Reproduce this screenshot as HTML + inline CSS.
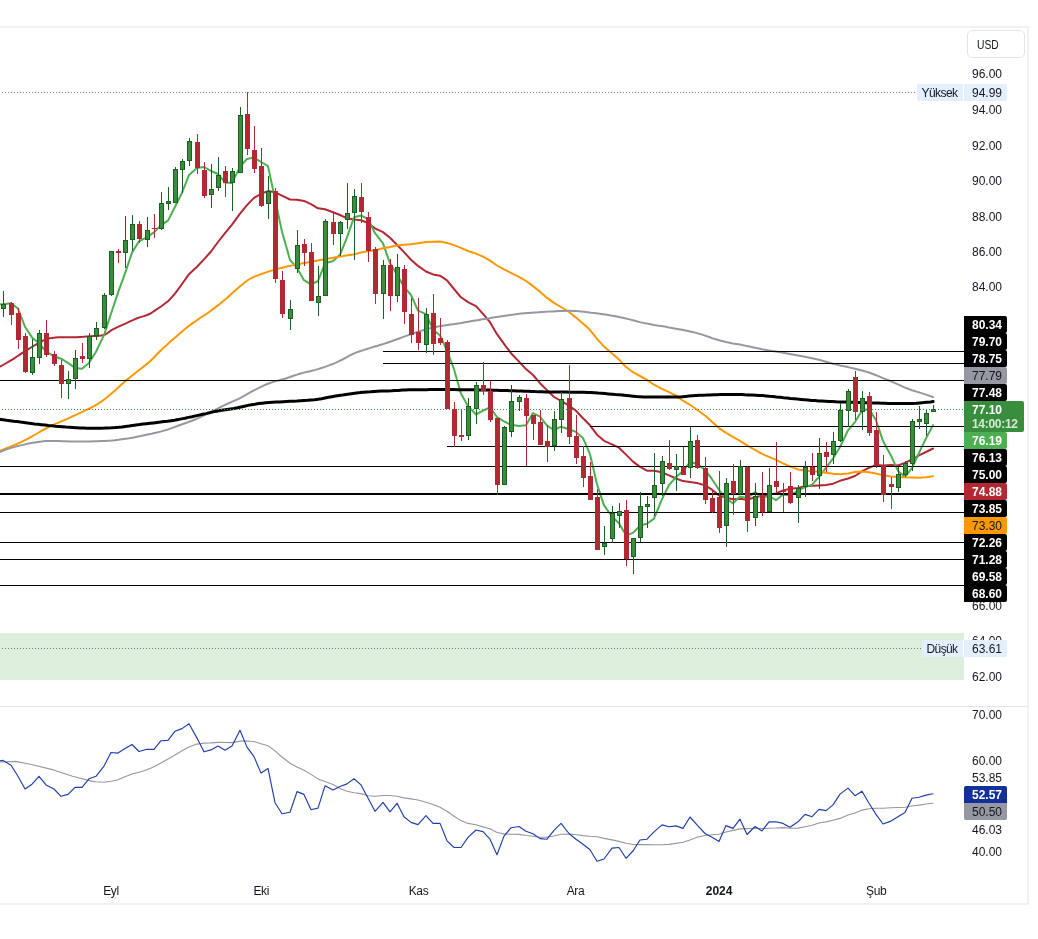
<!DOCTYPE html><html><head><meta charset="utf-8"><title>chart</title><style>
html,body{margin:0;padding:0;background:#fff}
body{width:1038px;height:939px;position:relative;overflow:hidden;font-family:"Liberation Sans",sans-serif;font-size:12px;color:#131722}
.t{position:absolute;left:972px;height:16px;line-height:16px;white-space:nowrap}
.b{position:absolute;left:964px;width:43px;height:17px;line-height:17px;box-sizing:border-box;padding-left:8px;white-space:nowrap;border-radius:0 2px 2px 0}
.b span{position:relative;top:0.5px;display:inline-block}
.w{color:#fff;font-weight:bold}
.tm{position:absolute;top:882.5px;height:16px;line-height:16px;transform:translateX(-50%);white-space:nowrap;letter-spacing:-0.4px}

</style></head><body><div id="root" style="position:absolute;left:0;top:0;width:1038px;height:939px;will-change:transform">
<svg width="1038" height="939" viewBox="0 0 1038 939" style="position:absolute;left:0;top:0">
<rect x="0" y="633" width="964" height="47" fill="#dcefdc"/>
<line x1="-1" y1="92.5" x2="916" y2="92.5" stroke="#787b86" stroke-width="1" stroke-dasharray="1 2" shape-rendering="crispEdges"/>
<line x1="-1" y1="648.5" x2="921" y2="648.5" stroke="#787b86" stroke-width="1" stroke-dasharray="1 2" shape-rendering="crispEdges"/>
<polyline points="-0.5,367.0 3.0,365.0 6.5,363.0 10.0,360.9 13.5,358.8 17.0,356.5 20.5,354.1 24.0,351.8 27.5,349.6 31.0,347.5 34.5,345.4 38.0,343.5 41.5,341.5 45.0,339.6 48.5,338.4 52.0,337.9 55.5,337.5 59.0,337.3 62.5,337.2 66.0,337.2 69.5,337.2 73.0,337.2 76.5,337.2 80.0,337.0 83.5,336.8 87.0,336.5 90.5,336.3 94.0,336.1 97.5,335.9 101.0,335.5 104.5,334.9 108.0,332.8 111.5,330.1 115.0,328.3 118.5,326.7 122.0,325.1 125.5,323.6 129.0,321.9 132.5,320.3 136.0,318.7 139.5,317.4 143.0,316.4 146.5,315.2 150.0,313.8 153.5,311.5 154.0,311.1 161.0,306.5 168.0,301.3 175.0,293.6 182.0,284.0 189.0,274.2 197.0,266.7 204.0,259.4 211.0,251.5 218.0,242.0 225.0,233.1 232.0,224.6 240.0,213.6 247.0,205.1 254.0,197.9 261.0,193.8 268.0,191.1 275.0,192.3 282.0,195.7 290.0,199.5 297.0,199.8 304.0,200.9 311.0,204.1 318.0,208.3 325.0,209.2 333.0,212.2 340.0,215.0 347.0,218.3 354.0,219.5 361.0,220.3 368.0,223.0 375.0,228.4 383.0,232.1 390.0,237.8 397.0,244.7 404.0,252.1 411.0,259.7 418.0,265.9 426.0,271.5 433.0,274.4 440.0,275.7 447.0,280.3 454.0,289.0 461.0,297.3 468.0,302.1 476.0,306.1 483.0,313.8 490.0,322.2 497.0,334.2 504.0,343.9 511.0,353.2 519.0,361.6 526.0,369.1 533.0,375.0 540.0,383.2 547.0,390.1 554.0,397.0 561.0,400.9 569.0,405.6 576.0,410.8 583.0,418.2 590.0,425.3 597.0,434.7 604.0,440.8 612.0,444.3 619.0,447.7 626.0,454.6 633.0,461.6 640.0,466.9 647.0,470.7 654.0,470.8 662.0,472.3 669.0,475.4 676.0,478.5 683.0,481.1 690.0,481.9 697.0,483.0 705.0,485.4 712.0,489.7 719.0,495.5 726.0,497.6 733.0,499.3 740.0,498.7 747.0,499.7 755.0,497.2 762.0,495.9 769.0,494.6 776.0,493.5 783.0,490.4 790.0,488.8 798.0,487.9 805.0,486.2 812.0,485.8 819.0,485.4 826.0,484.9 833.0,483.7 840.0,480.8 848.0,478.5 855.0,476.0 862.0,471.3 869.0,467.7 876.0,464.9 883.0,465.4 891.0,465.1 898.0,465.5 905.0,462.9 912.0,459.5 919.0,455.3 926.0,452.0 933.0,448.5" fill="none" stroke="#b22833" stroke-width="2" stroke-linejoin="round" stroke-linecap="round"/>
<polyline points="-0.5,304.3 3.0,304.2 11.0,303.2 18.0,308.5 25.0,326.8 32.0,337.4 39.0,343.3 46.0,351.3 54.0,356.3 61.0,358.7 68.0,362.9 75.0,367.9 82.0,368.7 89.0,362.9 96.0,351.8 104.0,335.1 111.0,313.8 118.0,292.6 125.0,273.4 132.0,252.6 139.0,241.3 147.0,237.1 154.0,232.4 161.0,225.2 168.0,220.6 175.0,206.7 182.0,192.7 189.0,175.1 197.0,168.1 204.0,166.9 211.0,171.0 218.0,174.0 225.0,182.4 232.0,182.9 240.0,166.9 247.0,158.9 254.0,157.5 261.0,162.0 268.0,166.1 275.0,198.9 282.0,231.7 290.0,259.9 297.0,267.8 304.0,280.2 311.0,284.4 318.0,281.0 325.0,263.4 333.0,261.0 340.0,254.8 347.0,237.4 354.0,217.3 361.0,215.5 368.0,218.9 375.0,233.2 383.0,243.4 390.0,263.4 397.0,274.5 404.0,286.9 411.0,295.0 418.0,310.6 426.0,314.2 433.0,329.4 440.0,335.5 447.0,350.5 454.0,369.2 461.0,393.7 468.0,406.1 476.0,414.5 483.0,410.7 490.0,407.5 497.0,417.0 504.0,421.4 511.0,424.8 519.0,426.1 526.0,425.2 533.0,413.1 540.0,416.6 547.0,425.6 554.0,430.0 561.0,426.7 569.0,429.3 576.0,431.9 583.0,438.1 590.0,454.2 597.0,484.2 604.0,505.4 612.0,516.5 619.0,523.3 626.0,535.2 633.0,532.9 640.0,525.6 647.0,523.8 654.0,518.6 662.0,499.1 669.0,485.2 676.0,477.0 683.0,471.1 690.0,462.2 697.0,463.7 705.0,469.9 712.0,479.2 719.0,489.8 726.0,498.3 733.0,503.4 740.0,496.5 747.0,498.2 755.0,492.0 762.0,497.7 769.0,496.0 776.0,500.2 783.0,494.4 790.0,495.6 798.0,490.7 805.0,487.1 812.0,484.7 819.0,477.0 826.0,467.9 833.0,458.5 840.0,447.0 848.0,430.3 855.0,422.1 862.0,410.4 869.0,408.9 876.0,420.2 883.0,440.9 891.0,455.7 898.0,470.9 905.0,477.0 912.0,468.0 919.0,452.9 926.0,438.3 933.0,425.2" fill="none" stroke="#4caf50" stroke-width="2" stroke-linejoin="round" stroke-linecap="round"/>
<polyline points="-0.5,450.9 3.0,449.6 6.5,448.3 10.0,446.9 13.5,445.4 17.0,443.9 20.5,442.3 24.0,440.6 27.5,438.9 31.0,437.0 34.5,435.0 38.0,433.0 41.5,430.9 45.0,429.0 48.5,427.1 52.0,425.4 55.5,423.8 59.0,422.3 62.5,420.8 66.0,419.3 69.5,417.8 73.0,416.2 76.5,414.6 80.0,412.9 83.5,411.3 87.0,409.7 90.5,408.0 94.0,406.1 97.5,404.2 101.0,401.9 104.5,399.3 108.0,396.4 111.5,393.4 115.0,390.4 118.5,387.2 122.0,383.9 125.5,380.9 129.0,378.1 132.5,375.3 136.0,372.5 139.5,369.8 143.0,367.1 146.5,364.3 150.0,361.3 153.5,358.0 157.0,354.3 160.5,350.8 164.0,347.4 167.5,344.2 171.0,341.1 174.5,338.0 178.0,335.0 181.5,332.0 185.0,329.1 188.5,326.3 192.0,323.6 195.5,321.2 199.0,318.8 202.5,316.5 206.0,314.2 209.5,311.7 213.0,309.1 216.5,306.4 220.0,303.7 223.5,300.8 227.0,297.9 230.5,294.8 234.0,291.6 237.5,288.5 241.0,285.6 244.5,282.7 248.0,280.0 251.5,278.0 255.0,276.4 258.5,275.1 262.0,273.8 265.5,272.6 269.0,271.4 272.5,270.4 276.0,269.3 279.5,268.4 283.0,267.5 286.5,266.6 290.0,265.9 293.5,265.1 297.0,264.4 300.5,263.8 304.0,263.1 307.5,262.5 311.0,261.8 314.5,261.1 318.0,260.5 321.5,259.8 325.0,259.2 328.5,258.6 332.0,257.9 335.5,257.3 339.0,256.7 342.5,256.2 346.0,255.6 349.5,255.0 353.0,254.5 354.0,254.3 361.0,252.5 368.0,251.2 375.0,250.3 383.0,248.2 390.0,246.9 397.0,245.6 404.0,244.8 411.0,244.2 418.0,243.3 426.0,242.1 433.0,241.8 440.0,241.4 447.0,242.9 454.0,245.1 461.0,247.9 468.0,251.0 476.0,253.6 483.0,256.7 490.0,260.6 497.0,265.5 504.0,269.4 511.0,272.9 519.0,276.8 526.0,281.0 533.0,286.1 540.0,291.8 547.0,297.9 554.0,302.9 561.0,307.0 569.0,312.0 576.0,317.6 583.0,323.5 590.0,330.1 597.0,338.8 604.0,346.6 612.0,353.5 619.0,359.6 626.0,367.0 633.0,372.2 640.0,376.0 647.0,379.9 654.0,384.7 662.0,388.9 669.0,392.2 676.0,395.6 683.0,400.7 690.0,404.8 697.0,409.8 705.0,415.5 712.0,421.8 719.0,428.1 726.0,432.8 733.0,436.8 740.0,440.8 747.0,445.3 755.0,449.9 762.0,453.9 769.0,456.9 776.0,459.8 783.0,463.3 790.0,466.5 798.0,469.4 805.0,470.5 812.0,471.3 819.0,471.6 826.0,472.7 833.0,473.8 840.0,474.2 848.0,473.6 855.0,472.1 862.0,471.6 869.0,472.2 876.0,473.6 883.0,475.2 891.0,476.4 898.0,477.0 905.0,477.3 912.0,477.4 919.0,477.8 926.0,477.3 933.0,476.3" fill="none" stroke="#ff9800" stroke-width="2" stroke-linejoin="round" stroke-linecap="round"/>
<polyline points="-0.5,452.0 3.0,450.7 6.5,449.4 10.0,448.2 13.5,447.1 17.0,446.2 20.5,445.4 24.0,444.6 27.5,443.8 31.0,443.1 34.5,442.4 38.0,441.9 41.5,441.4 45.0,441.1 48.5,440.9 52.0,440.9 55.5,441.0 59.0,441.1 62.5,441.2 66.0,441.3 69.5,441.4 73.0,441.5 76.5,441.6 80.0,441.6 83.5,441.6 87.0,441.5 90.5,441.4 94.0,441.3 97.5,441.2 101.0,441.0 104.5,440.9 108.0,440.7 111.5,440.5 115.0,440.2 118.5,439.8 122.0,439.3 125.5,438.8 129.0,438.3 132.5,437.7 136.0,437.0 139.5,436.3 143.0,435.5 146.5,434.8 150.0,434.1 153.5,433.3 157.0,432.5 160.5,431.6 164.0,430.6 167.5,429.6 171.0,428.4 174.5,427.1 178.0,425.8 181.5,424.5 185.0,423.2 188.5,422.0 192.0,420.7 195.5,419.3 199.0,417.7 202.5,416.0 206.0,414.3 209.5,412.6 213.0,410.9 216.5,409.1 220.0,407.3 223.5,405.6 227.0,404.0 230.5,402.4 234.0,400.9 237.5,399.4 241.0,397.6 244.5,395.7 248.0,393.7 251.5,391.7 255.0,389.8 258.5,388.1 262.0,386.3 265.5,384.7 269.0,383.3 272.5,382.1 276.0,381.1 279.5,380.2 283.0,379.2 286.5,378.2 290.0,377.0 293.5,375.7 297.0,374.6 300.5,373.5 304.0,372.6 307.5,371.8 311.0,371.0 314.5,370.1 318.0,369.1 321.5,368.0 325.0,366.9 328.5,365.6 332.0,364.3 335.5,362.8 339.0,361.2 342.5,359.5 346.0,357.7 349.5,355.7 353.0,353.9 356.5,352.4 360.0,351.2 363.5,350.1 367.0,349.0 370.5,347.9 374.0,346.8 377.5,345.8 381.0,344.7 384.5,343.6 388.0,342.5 391.5,341.3 395.0,340.0 398.5,338.7 402.0,337.4 405.5,336.1 409.0,334.9 412.5,333.7 416.0,332.5 419.5,331.4 423.0,330.3 426.5,329.2 430.0,328.3 433.5,327.4 437.0,326.7 440.5,326.1 444.0,325.5 447.5,325.0 451.0,324.5 454.5,324.0 458.0,323.4 461.5,322.9 465.0,322.3 468.5,321.7 472.0,321.1 475.5,320.5 479.0,319.9 482.5,319.3 486.0,318.7 489.5,318.2 493.0,317.6 496.5,317.0 500.0,316.5 503.5,315.9 507.0,315.4 510.5,314.9 514.0,314.4 517.5,314.0 521.0,313.6 524.5,313.3 528.0,313.0 531.5,312.7 535.0,312.4 538.5,312.2 542.0,311.9 545.5,311.7 549.0,311.6 552.5,311.4 556.0,311.2 559.5,311.0 563.0,310.9 566.5,310.8 570.0,310.8 573.5,310.9 577.0,311.1 580.5,311.4 584.0,311.8 587.5,312.2 591.0,312.7 594.5,313.1 598.0,313.5 601.5,314.0 605.0,314.5 608.5,315.1 612.0,315.7 615.5,316.3 619.0,317.0 622.5,317.7 626.0,318.5 629.5,319.4 633.0,320.3 636.5,321.2 640.0,322.1 643.5,322.9 647.0,323.6 650.5,324.2 654.0,324.9 657.5,325.5 661.0,326.0 664.5,326.6 668.0,327.3 671.5,327.9 675.0,328.6 678.5,329.2 682.0,329.8 685.5,330.5 689.0,331.2 692.5,332.0 696.0,332.9 699.5,333.9 703.0,334.9 706.5,336.1 710.0,337.3 712.0,338.1 719.0,340.3 726.0,342.0 733.0,343.5 740.0,344.5 747.0,346.1 755.0,347.7 762.0,349.3 769.0,350.5 776.0,351.6 783.0,352.7 790.0,354.1 798.0,355.4 805.0,356.7 812.0,358.2 819.0,359.8 826.0,361.8 833.0,363.7 840.0,365.4 848.0,367.1 855.0,368.8 862.0,370.5 869.0,372.5 876.0,375.2 883.0,378.1 891.0,381.3 898.0,384.4 905.0,387.6 912.0,390.2 919.0,392.4 926.0,394.6 933.0,397.0" fill="none" stroke="#9598a1" stroke-width="2" stroke-linejoin="round" stroke-linecap="round"/>
<polyline points="-0.5,419.3 3.0,419.8 6.5,420.3 10.0,420.7 13.5,421.2 17.0,421.6 20.5,422.1 24.0,422.5 27.5,423.0 31.0,423.4 34.5,423.9 38.0,424.3 41.5,424.7 45.0,425.1 48.5,425.5 52.0,425.8 55.5,426.2 59.0,426.5 62.5,426.8 66.0,427.1 69.5,427.3 73.0,427.5 76.5,427.7 80.0,427.9 83.5,428.0 87.0,428.2 90.5,428.3 94.0,428.3 97.5,428.3 101.0,428.2 104.5,428.1 108.0,427.9 111.5,427.8 115.0,427.6 118.5,427.3 122.0,426.9 125.5,426.4 129.0,426.0 132.5,425.5 136.0,425.0 139.5,424.6 143.0,424.1 146.5,423.7 150.0,423.3 153.5,422.9 157.0,422.5 160.5,422.1 164.0,421.6 167.5,421.2 171.0,420.7 174.5,420.2 178.0,419.6 181.5,418.9 185.0,418.2 188.5,417.4 192.0,416.7 195.5,415.9 199.0,415.1 202.5,414.3 206.0,413.6 209.5,412.8 213.0,411.9 216.5,411.2 220.0,410.5 223.5,410.0 227.0,409.5 230.5,409.0 234.0,408.5 237.5,407.8 241.0,407.0 244.5,406.2 248.0,405.4 251.5,404.7 255.0,404.2 258.5,403.6 262.0,403.2 265.5,402.8 269.0,402.5 272.5,402.3 276.0,402.1 279.5,401.9 283.0,401.7 286.5,401.5 290.0,401.3 293.5,401.2 297.0,401.0 300.5,400.7 304.0,400.5 307.5,400.3 311.0,400.0 314.5,399.7 318.0,399.3 321.5,398.8 325.0,398.0 328.5,397.3 332.0,396.7 335.5,396.1 339.0,395.6 342.5,395.1 346.0,394.5 349.5,393.9 353.0,393.4 356.5,392.9 360.0,392.6 363.5,392.2 367.0,391.9 370.5,391.7 374.0,391.4 377.5,391.2 381.0,391.1 384.5,391.0 388.0,390.9 391.5,390.8 395.0,390.6 398.5,390.4 402.0,390.1 405.5,389.9 409.0,389.8 412.5,389.8 416.0,389.7 419.5,389.7 423.0,389.7 426.5,389.7 430.0,389.6 433.5,389.6 437.0,389.6 440.5,389.6 444.0,389.6 447.5,389.6 451.0,389.6 454.5,389.6 458.0,389.7 461.5,389.7 465.0,389.7 468.5,389.8 472.0,389.8 475.5,389.8 479.0,389.9 482.5,390.0 486.0,390.0 489.5,390.1 493.0,390.2 496.5,390.3 500.0,390.4 503.5,390.5 507.0,390.6 510.5,390.7 514.0,390.8 517.5,390.9 521.0,391.0 524.5,391.2 528.0,391.3 531.5,391.4 535.0,391.6 538.5,391.7 542.0,391.8 545.5,391.9 549.0,392.0 552.5,392.0 556.0,392.1 559.5,392.1 563.0,392.1 566.5,392.1 570.0,392.2 573.5,392.2 577.0,392.2 580.5,392.3 584.0,392.3 587.5,392.5 591.0,392.6 594.5,392.8 598.0,393.1 601.5,393.3 605.0,393.6 608.5,393.9 612.0,394.2 615.5,394.5 619.0,394.7 622.5,395.0 626.0,395.4 629.5,395.8 633.0,396.2 636.5,396.6 640.0,396.8 643.5,397.0 647.0,397.0 650.5,397.0 654.0,397.0 657.5,397.0 661.0,397.0 664.5,397.0 668.0,397.0 671.5,397.0 675.0,397.0 678.5,396.9 682.0,396.7 685.5,396.4 689.0,396.1 692.5,395.8 696.0,395.5 699.5,395.3 703.0,395.2 706.5,395.1 710.0,394.9 713.5,394.8 717.0,394.7 720.5,394.6 724.0,394.6 727.5,394.5 731.0,394.5 734.5,394.5 738.0,394.6 741.5,394.6 745.0,394.8 748.5,394.9 752.0,395.0 755.5,395.2 759.0,395.4 762.5,395.6 766.0,395.9 769.5,396.3 773.0,396.6 776.5,397.0 780.0,397.3 783.5,397.7 787.0,398.0 790.5,398.4 794.0,398.7 797.5,399.1 801.0,399.4 804.5,399.7 808.0,400.0 811.5,400.4 815.0,400.6 818.5,400.9 822.0,401.1 825.5,401.3 829.0,401.5 832.5,401.6 836.0,401.8 839.5,401.9 843.0,402.0 846.5,402.1 850.0,402.2 853.5,402.3 857.0,402.4 860.5,402.5 864.0,402.7 867.5,402.8 871.0,402.9 874.5,403.0 878.0,403.1 881.5,403.2 885.0,403.3 888.5,403.4 892.0,403.5 895.5,403.5 899.0,403.5 902.5,403.5 906.0,403.5 909.5,403.4 913.0,403.4 916.5,403.3 920.0,402.9 923.5,402.6 927.0,402.2 930.5,401.9 933.1,401.6" fill="none" stroke="#000" stroke-width="3" stroke-linejoin="round" stroke-linecap="round"/>
<line x1="383" y1="351.5" x2="964" y2="351.5" stroke="#000" stroke-width="1" shape-rendering="crispEdges"/>
<line x1="383" y1="363.5" x2="964" y2="363.5" stroke="#000" stroke-width="1" shape-rendering="crispEdges"/>
<line x1="0" y1="380.5" x2="964" y2="380.5" stroke="#000" stroke-width="1" shape-rendering="crispEdges"/>
<line x1="590" y1="426.5" x2="964" y2="426.5" stroke="#000" stroke-width="1" shape-rendering="crispEdges"/>
<line x1="447" y1="446.5" x2="964" y2="446.5" stroke="#000" stroke-width="1" shape-rendering="crispEdges"/>
<line x1="0" y1="466.5" x2="964" y2="466.5" stroke="#000" stroke-width="1" shape-rendering="crispEdges"/>
<rect x="0" y="493.0" width="964" height="2" fill="#000" shape-rendering="crispEdges"/>
<line x1="0" y1="512.5" x2="964" y2="512.5" stroke="#000" stroke-width="1" shape-rendering="crispEdges"/>
<line x1="0" y1="542.5" x2="964" y2="542.5" stroke="#000" stroke-width="1" shape-rendering="crispEdges"/>
<line x1="0" y1="559.5" x2="964" y2="559.5" stroke="#000" stroke-width="1" shape-rendering="crispEdges"/>
<line x1="0" y1="585.5" x2="964" y2="585.5" stroke="#000" stroke-width="1" shape-rendering="crispEdges"/>
<g shape-rendering="crispEdges">
<rect x="3" y="291.2" width="1" height="25.6" fill="#1b5e20"/>
<rect x="1" y="303.7" width="5" height="4.8" fill="#1b5e20"/>
<rect x="2" y="304.7" width="3" height="2.8" fill="#388e3c"/>
<rect x="11" y="302.4" width="1" height="22.5" fill="#b22833"/>
<rect x="9" y="303.1" width="5" height="11.6" fill="#b22833"/>
<rect x="10" y="304.1" width="3" height="9.6" fill="#b22833"/>
<rect x="18" y="307.6" width="1" height="41.0" fill="#b22833"/>
<rect x="16" y="313.4" width="5" height="26.3" fill="#b22833"/>
<rect x="17" y="314.4" width="3" height="24.3" fill="#b22833"/>
<rect x="25" y="333.2" width="1" height="39.5" fill="#b22833"/>
<rect x="23" y="335.9" width="5" height="35.8" fill="#b22833"/>
<rect x="24" y="336.9" width="3" height="33.8" fill="#b22833"/>
<rect x="32" y="339.4" width="1" height="35.6" fill="#1b5e20"/>
<rect x="30" y="357.3" width="5" height="15.2" fill="#1b5e20"/>
<rect x="31" y="358.3" width="3" height="13.2" fill="#388e3c"/>
<rect x="39" y="330.1" width="1" height="33.9" fill="#1b5e20"/>
<rect x="37" y="333.2" width="5" height="24.5" fill="#1b5e20"/>
<rect x="38" y="334.2" width="3" height="22.5" fill="#388e3c"/>
<rect x="46" y="320.1" width="1" height="36.6" fill="#b22833"/>
<rect x="44" y="333.2" width="5" height="21.6" fill="#b22833"/>
<rect x="45" y="334.2" width="3" height="19.6" fill="#b22833"/>
<rect x="54" y="350.9" width="1" height="14.9" fill="#b22833"/>
<rect x="52" y="354.2" width="5" height="10.2" fill="#b22833"/>
<rect x="53" y="355.2" width="3" height="8.2" fill="#b22833"/>
<rect x="61" y="360.2" width="1" height="37.5" fill="#b22833"/>
<rect x="59" y="364.8" width="5" height="18.9" fill="#b22833"/>
<rect x="60" y="365.8" width="3" height="16.9" fill="#b22833"/>
<rect x="68" y="371.2" width="1" height="27.5" fill="#1b5e20"/>
<rect x="66" y="378.5" width="5" height="5.2" fill="#1b5e20"/>
<rect x="67" y="379.5" width="3" height="3.2" fill="#388e3c"/>
<rect x="75" y="350.0" width="1" height="38.5" fill="#1b5e20"/>
<rect x="73" y="358.2" width="5" height="20.7" fill="#1b5e20"/>
<rect x="74" y="359.2" width="3" height="18.7" fill="#388e3c"/>
<rect x="82" y="343.2" width="1" height="19.3" fill="#b22833"/>
<rect x="80" y="356.1" width="5" height="2.5" fill="#b22833"/>
<rect x="81" y="357.1" width="3" height="0.5" fill="#b22833"/>
<rect x="89" y="332.6" width="1" height="35.1" fill="#1b5e20"/>
<rect x="87" y="335.5" width="5" height="23.1" fill="#1b5e20"/>
<rect x="88" y="336.5" width="3" height="21.1" fill="#388e3c"/>
<rect x="96" y="322.0" width="1" height="18.3" fill="#1b5e20"/>
<rect x="94" y="328.4" width="5" height="7.1" fill="#1b5e20"/>
<rect x="95" y="329.4" width="3" height="5.1" fill="#388e3c"/>
<rect x="104" y="292.7" width="1" height="36.1" fill="#1b5e20"/>
<rect x="102" y="295.0" width="5" height="33.4" fill="#1b5e20"/>
<rect x="103" y="296.0" width="3" height="31.4" fill="#388e3c"/>
<rect x="111" y="251.0" width="1" height="44.5" fill="#1b5e20"/>
<rect x="109" y="251.4" width="5" height="43.9" fill="#1b5e20"/>
<rect x="110" y="252.4" width="3" height="41.9" fill="#388e3c"/>
<rect x="118" y="249.1" width="1" height="13.9" fill="#b22833"/>
<rect x="116" y="251.0" width="5" height="1.6" fill="#b22833"/>
<rect x="125" y="216.0" width="1" height="52.0" fill="#1b5e20"/>
<rect x="123" y="239.5" width="5" height="13.8" fill="#1b5e20"/>
<rect x="124" y="240.5" width="3" height="11.8" fill="#388e3c"/>
<rect x="132" y="215.0" width="1" height="36.0" fill="#1b5e20"/>
<rect x="130" y="224.4" width="5" height="15.1" fill="#1b5e20"/>
<rect x="131" y="225.4" width="3" height="13.1" fill="#388e3c"/>
<rect x="139" y="220.8" width="1" height="21.9" fill="#b22833"/>
<rect x="137" y="224.4" width="5" height="14.1" fill="#b22833"/>
<rect x="138" y="225.4" width="3" height="12.1" fill="#b22833"/>
<rect x="147" y="216.9" width="1" height="29.9" fill="#1b5e20"/>
<rect x="145" y="230.4" width="5" height="9.1" fill="#1b5e20"/>
<rect x="146" y="231.4" width="3" height="7.1" fill="#388e3c"/>
<rect x="154" y="214.0" width="1" height="24.0" fill="#b22833"/>
<rect x="152" y="228.3" width="5" height="1.1" fill="#b22833"/>
<rect x="161" y="192.3" width="1" height="37.5" fill="#1b5e20"/>
<rect x="159" y="203.2" width="5" height="26.2" fill="#1b5e20"/>
<rect x="160" y="204.2" width="3" height="24.2" fill="#388e3c"/>
<rect x="168" y="187.0" width="1" height="23.0" fill="#1b5e20"/>
<rect x="166" y="201.3" width="5" height="2.5" fill="#1b5e20"/>
<rect x="167" y="202.3" width="3" height="0.5" fill="#388e3c"/>
<rect x="175" y="166.8" width="1" height="36.1" fill="#1b5e20"/>
<rect x="173" y="169.1" width="5" height="33.4" fill="#1b5e20"/>
<rect x="174" y="170.1" width="3" height="31.4" fill="#388e3c"/>
<rect x="182" y="159.1" width="1" height="33.7" fill="#1b5e20"/>
<rect x="180" y="160.5" width="5" height="9.0" fill="#1b5e20"/>
<rect x="181" y="161.5" width="3" height="7.0" fill="#388e3c"/>
<rect x="189" y="137.9" width="1" height="28.0" fill="#1b5e20"/>
<rect x="187" y="141.2" width="5" height="19.3" fill="#1b5e20"/>
<rect x="188" y="142.2" width="3" height="17.3" fill="#388e3c"/>
<rect x="197" y="134.0" width="1" height="39.6" fill="#b22833"/>
<rect x="195" y="142.2" width="5" height="26.0" fill="#b22833"/>
<rect x="196" y="143.2" width="3" height="24.0" fill="#b22833"/>
<rect x="204" y="162.0" width="1" height="36.0" fill="#b22833"/>
<rect x="202" y="170.1" width="5" height="25.6" fill="#b22833"/>
<rect x="203" y="171.1" width="3" height="23.6" fill="#b22833"/>
<rect x="211" y="163.9" width="1" height="43.8" fill="#1b5e20"/>
<rect x="209" y="189.4" width="5" height="5.2" fill="#1b5e20"/>
<rect x="210" y="190.4" width="3" height="3.2" fill="#388e3c"/>
<rect x="218" y="157.0" width="1" height="33.9" fill="#1b5e20"/>
<rect x="216" y="175.3" width="5" height="13.1" fill="#1b5e20"/>
<rect x="217" y="176.3" width="3" height="11.1" fill="#388e3c"/>
<rect x="225" y="166.2" width="1" height="30.5" fill="#b22833"/>
<rect x="223" y="171.1" width="5" height="12.1" fill="#b22833"/>
<rect x="224" y="172.1" width="3" height="10.1" fill="#b22833"/>
<rect x="232" y="168.2" width="1" height="42.4" fill="#1b5e20"/>
<rect x="230" y="171.1" width="5" height="12.1" fill="#1b5e20"/>
<rect x="231" y="172.1" width="3" height="10.1" fill="#388e3c"/>
<rect x="240" y="107.0" width="1" height="65.5" fill="#1b5e20"/>
<rect x="238" y="115.3" width="5" height="57.2" fill="#1b5e20"/>
<rect x="239" y="116.3" width="3" height="55.2" fill="#388e3c"/>
<rect x="247" y="91.9" width="1" height="62.9" fill="#b22833"/>
<rect x="245" y="114.3" width="5" height="35.1" fill="#b22833"/>
<rect x="246" y="115.3" width="3" height="33.1" fill="#b22833"/>
<rect x="254" y="125.9" width="1" height="47.0" fill="#b22833"/>
<rect x="252" y="150.3" width="5" height="18.3" fill="#b22833"/>
<rect x="253" y="151.3" width="3" height="16.3" fill="#b22833"/>
<rect x="261" y="147.8" width="1" height="59.0" fill="#b22833"/>
<rect x="259" y="166.1" width="5" height="39.5" fill="#b22833"/>
<rect x="260" y="167.1" width="3" height="37.5" fill="#b22833"/>
<rect x="268" y="176.0" width="1" height="42.7" fill="#1b5e20"/>
<rect x="266" y="191.4" width="5" height="12.9" fill="#1b5e20"/>
<rect x="267" y="192.4" width="3" height="10.9" fill="#388e3c"/>
<rect x="275" y="188.0" width="1" height="94.9" fill="#b22833"/>
<rect x="273" y="190.8" width="5" height="88.6" fill="#b22833"/>
<rect x="274" y="191.8" width="3" height="86.6" fill="#b22833"/>
<rect x="282" y="271.3" width="1" height="46.2" fill="#b22833"/>
<rect x="280" y="280.3" width="5" height="33.4" fill="#b22833"/>
<rect x="281" y="281.3" width="3" height="31.4" fill="#b22833"/>
<rect x="290" y="300.2" width="1" height="29.3" fill="#1b5e20"/>
<rect x="288" y="309.2" width="5" height="9.3" fill="#1b5e20"/>
<rect x="289" y="310.2" width="3" height="7.3" fill="#388e3c"/>
<rect x="297" y="230.2" width="1" height="42.6" fill="#1b5e20"/>
<rect x="295" y="245.3" width="5" height="24.1" fill="#1b5e20"/>
<rect x="296" y="246.3" width="3" height="22.1" fill="#388e3c"/>
<rect x="304" y="239.1" width="1" height="26.4" fill="#b22833"/>
<rect x="302" y="244.3" width="5" height="9.1" fill="#b22833"/>
<rect x="303" y="245.3" width="3" height="7.1" fill="#b22833"/>
<rect x="311" y="243.3" width="1" height="57.3" fill="#b22833"/>
<rect x="309" y="252.0" width="5" height="48.6" fill="#b22833"/>
<rect x="310" y="253.0" width="3" height="46.6" fill="#b22833"/>
<rect x="318" y="266.1" width="1" height="49.5" fill="#1b5e20"/>
<rect x="316" y="296.3" width="5" height="6.2" fill="#1b5e20"/>
<rect x="317" y="297.3" width="3" height="4.2" fill="#388e3c"/>
<rect x="325" y="219.0" width="1" height="77.3" fill="#1b5e20"/>
<rect x="323" y="221.2" width="5" height="75.1" fill="#1b5e20"/>
<rect x="324" y="222.2" width="3" height="73.1" fill="#388e3c"/>
<rect x="333" y="212.3" width="1" height="32.4" fill="#b22833"/>
<rect x="331" y="222.2" width="5" height="11.5" fill="#b22833"/>
<rect x="332" y="223.2" width="3" height="9.5" fill="#b22833"/>
<rect x="340" y="221.0" width="1" height="35.4" fill="#1b5e20"/>
<rect x="338" y="222.2" width="5" height="11.5" fill="#1b5e20"/>
<rect x="339" y="223.2" width="3" height="9.5" fill="#388e3c"/>
<rect x="347" y="183.0" width="1" height="45.6" fill="#1b5e20"/>
<rect x="345" y="213.4" width="5" height="6.8" fill="#1b5e20"/>
<rect x="346" y="214.4" width="3" height="4.8" fill="#388e3c"/>
<rect x="354" y="188.9" width="1" height="70.8" fill="#1b5e20"/>
<rect x="352" y="196.2" width="5" height="17.2" fill="#1b5e20"/>
<rect x="353" y="197.2" width="3" height="15.2" fill="#388e3c"/>
<rect x="361" y="183.0" width="1" height="39.6" fill="#b22833"/>
<rect x="359" y="197.0" width="5" height="15.0" fill="#b22833"/>
<rect x="360" y="198.0" width="3" height="13.0" fill="#b22833"/>
<rect x="368" y="212.0" width="1" height="49.7" fill="#b22833"/>
<rect x="366" y="217.3" width="5" height="33.3" fill="#b22833"/>
<rect x="367" y="218.3" width="3" height="31.3" fill="#b22833"/>
<rect x="375" y="246.8" width="1" height="56.9" fill="#b22833"/>
<rect x="373" y="249.1" width="5" height="44.7" fill="#b22833"/>
<rect x="374" y="250.1" width="3" height="42.7" fill="#b22833"/>
<rect x="383" y="260.1" width="1" height="58.4" fill="#1b5e20"/>
<rect x="381" y="264.5" width="5" height="29.9" fill="#1b5e20"/>
<rect x="382" y="265.5" width="3" height="27.9" fill="#388e3c"/>
<rect x="390" y="259.3" width="1" height="51.5" fill="#b22833"/>
<rect x="388" y="265.1" width="5" height="31.2" fill="#b22833"/>
<rect x="389" y="266.1" width="3" height="29.2" fill="#b22833"/>
<rect x="397" y="254.3" width="1" height="47.2" fill="#1b5e20"/>
<rect x="395" y="267.4" width="5" height="28.9" fill="#1b5e20"/>
<rect x="396" y="268.4" width="3" height="26.9" fill="#388e3c"/>
<rect x="404" y="265.1" width="1" height="58.6" fill="#b22833"/>
<rect x="402" y="269.4" width="5" height="42.9" fill="#b22833"/>
<rect x="403" y="270.4" width="3" height="40.9" fill="#b22833"/>
<rect x="411" y="298.3" width="1" height="44.3" fill="#b22833"/>
<rect x="409" y="314.3" width="5" height="20.2" fill="#b22833"/>
<rect x="410" y="315.3" width="3" height="18.2" fill="#b22833"/>
<rect x="418" y="298.3" width="1" height="52.0" fill="#b22833"/>
<rect x="416" y="332.4" width="5" height="10.2" fill="#b22833"/>
<rect x="417" y="333.4" width="3" height="8.2" fill="#b22833"/>
<rect x="426" y="308.3" width="1" height="44.3" fill="#1b5e20"/>
<rect x="424" y="314.3" width="5" height="30.2" fill="#1b5e20"/>
<rect x="425" y="315.3" width="3" height="28.2" fill="#388e3c"/>
<rect x="433" y="294.4" width="1" height="60.3" fill="#b22833"/>
<rect x="431" y="313.3" width="5" height="30.2" fill="#b22833"/>
<rect x="432" y="314.3" width="3" height="28.2" fill="#b22833"/>
<rect x="440" y="318.1" width="1" height="26.4" fill="#b22833"/>
<rect x="438" y="338.0" width="5" height="4.5" fill="#b22833"/>
<rect x="439" y="339.0" width="3" height="2.5" fill="#b22833"/>
<rect x="447" y="339.6" width="1" height="69.8" fill="#b22833"/>
<rect x="445" y="342.0" width="5" height="67.4" fill="#b22833"/>
<rect x="446" y="343.0" width="3" height="65.4" fill="#b22833"/>
<rect x="454" y="402.3" width="1" height="44.3" fill="#b22833"/>
<rect x="452" y="409.4" width="5" height="27.0" fill="#b22833"/>
<rect x="453" y="410.4" width="3" height="25.0" fill="#b22833"/>
<rect x="461" y="409.4" width="1" height="31.4" fill="#b22833"/>
<rect x="459" y="435.0" width="5" height="1.6" fill="#b22833"/>
<rect x="468" y="398.0" width="1" height="41.8" fill="#1b5e20"/>
<rect x="466" y="405.5" width="5" height="30.9" fill="#1b5e20"/>
<rect x="467" y="406.5" width="3" height="28.9" fill="#388e3c"/>
<rect x="476" y="382.0" width="1" height="41.8" fill="#1b5e20"/>
<rect x="474" y="384.5" width="5" height="24.9" fill="#1b5e20"/>
<rect x="475" y="385.5" width="3" height="22.9" fill="#388e3c"/>
<rect x="483" y="362.2" width="1" height="32.3" fill="#b22833"/>
<rect x="481" y="384.5" width="5" height="6.2" fill="#b22833"/>
<rect x="482" y="385.5" width="3" height="4.2" fill="#b22833"/>
<rect x="490" y="380.5" width="1" height="41.4" fill="#b22833"/>
<rect x="488" y="391.3" width="5" height="28.7" fill="#b22833"/>
<rect x="489" y="392.3" width="3" height="26.7" fill="#b22833"/>
<rect x="497" y="417.7" width="1" height="77.0" fill="#b22833"/>
<rect x="495" y="418.2" width="5" height="66.3" fill="#b22833"/>
<rect x="496" y="419.2" width="3" height="64.3" fill="#b22833"/>
<rect x="504" y="425.8" width="1" height="58.7" fill="#1b5e20"/>
<rect x="502" y="427.3" width="5" height="57.2" fill="#1b5e20"/>
<rect x="503" y="428.3" width="3" height="55.2" fill="#388e3c"/>
<rect x="511" y="385.3" width="1" height="51.3" fill="#1b5e20"/>
<rect x="509" y="401.3" width="5" height="30.8" fill="#1b5e20"/>
<rect x="510" y="402.3" width="3" height="28.8" fill="#388e3c"/>
<rect x="519" y="395.1" width="1" height="15.4" fill="#1b5e20"/>
<rect x="517" y="397.4" width="5" height="4.3" fill="#1b5e20"/>
<rect x="518" y="398.4" width="3" height="2.3" fill="#388e3c"/>
<rect x="526" y="394.2" width="1" height="71.6" fill="#b22833"/>
<rect x="524" y="398.0" width="5" height="17.7" fill="#b22833"/>
<rect x="525" y="399.0" width="3" height="15.7" fill="#b22833"/>
<rect x="533" y="414.8" width="1" height="25.0" fill="#b22833"/>
<rect x="531" y="415.4" width="5" height="8.4" fill="#b22833"/>
<rect x="532" y="416.4" width="3" height="6.4" fill="#b22833"/>
<rect x="540" y="410.3" width="1" height="34.3" fill="#b22833"/>
<rect x="538" y="422.1" width="5" height="22.5" fill="#b22833"/>
<rect x="539" y="423.1" width="3" height="20.5" fill="#b22833"/>
<rect x="547" y="425.4" width="1" height="36.6" fill="#b22833"/>
<rect x="545" y="441.2" width="5" height="5.4" fill="#b22833"/>
<rect x="546" y="442.2" width="3" height="3.4" fill="#b22833"/>
<rect x="554" y="411.3" width="1" height="39.5" fill="#1b5e20"/>
<rect x="552" y="419.2" width="5" height="27.0" fill="#1b5e20"/>
<rect x="553" y="420.2" width="3" height="25.0" fill="#388e3c"/>
<rect x="561" y="392.2" width="1" height="40.5" fill="#1b5e20"/>
<rect x="559" y="399.4" width="5" height="20.2" fill="#1b5e20"/>
<rect x="560" y="400.4" width="3" height="18.2" fill="#388e3c"/>
<rect x="569" y="365.3" width="1" height="78.4" fill="#b22833"/>
<rect x="567" y="398.0" width="5" height="38.6" fill="#b22833"/>
<rect x="568" y="399.0" width="3" height="36.6" fill="#b22833"/>
<rect x="576" y="415.2" width="1" height="48.3" fill="#b22833"/>
<rect x="574" y="436.0" width="5" height="21.6" fill="#b22833"/>
<rect x="575" y="437.0" width="3" height="19.6" fill="#b22833"/>
<rect x="583" y="445.9" width="1" height="40.8" fill="#b22833"/>
<rect x="581" y="456.3" width="5" height="21.4" fill="#b22833"/>
<rect x="582" y="457.3" width="3" height="19.4" fill="#b22833"/>
<rect x="590" y="462.0" width="1" height="37.6" fill="#b22833"/>
<rect x="588" y="476.0" width="5" height="23.6" fill="#b22833"/>
<rect x="589" y="477.0" width="3" height="21.6" fill="#b22833"/>
<rect x="597" y="489.0" width="1" height="60.7" fill="#b22833"/>
<rect x="595" y="497.3" width="5" height="52.4" fill="#b22833"/>
<rect x="596" y="498.3" width="3" height="50.4" fill="#b22833"/>
<rect x="604" y="526.2" width="1" height="28.3" fill="#1b5e20"/>
<rect x="602" y="542.6" width="5" height="4.2" fill="#1b5e20"/>
<rect x="603" y="543.6" width="3" height="2.2" fill="#388e3c"/>
<rect x="612" y="506.0" width="1" height="36.6" fill="#1b5e20"/>
<rect x="610" y="513.1" width="5" height="26.2" fill="#1b5e20"/>
<rect x="611" y="514.1" width="3" height="24.2" fill="#388e3c"/>
<rect x="619" y="503.1" width="1" height="24.6" fill="#1b5e20"/>
<rect x="617" y="511.4" width="5" height="4.2" fill="#1b5e20"/>
<rect x="618" y="512.4" width="3" height="2.2" fill="#388e3c"/>
<rect x="626" y="499.8" width="1" height="65.9" fill="#b22833"/>
<rect x="624" y="510.2" width="5" height="48.8" fill="#b22833"/>
<rect x="625" y="511.2" width="3" height="46.8" fill="#b22833"/>
<rect x="633" y="537.8" width="1" height="36.0" fill="#1b5e20"/>
<rect x="631" y="538.3" width="5" height="18.2" fill="#1b5e20"/>
<rect x="632" y="539.3" width="3" height="16.2" fill="#388e3c"/>
<rect x="640" y="492.1" width="1" height="49.9" fill="#1b5e20"/>
<rect x="638" y="506.4" width="5" height="31.9" fill="#1b5e20"/>
<rect x="639" y="507.4" width="3" height="29.9" fill="#388e3c"/>
<rect x="647" y="496.0" width="1" height="31.6" fill="#1b5e20"/>
<rect x="645" y="504.0" width="5" height="2.6" fill="#1b5e20"/>
<rect x="646" y="505.0" width="3" height="0.6" fill="#388e3c"/>
<rect x="654" y="452.6" width="1" height="63.0" fill="#1b5e20"/>
<rect x="652" y="485.4" width="5" height="12.3" fill="#1b5e20"/>
<rect x="653" y="486.4" width="3" height="10.3" fill="#388e3c"/>
<rect x="662" y="456.3" width="1" height="39.5" fill="#1b5e20"/>
<rect x="660" y="461.3" width="5" height="22.9" fill="#1b5e20"/>
<rect x="661" y="462.3" width="3" height="20.9" fill="#388e3c"/>
<rect x="669" y="440.1" width="1" height="29.8" fill="#b22833"/>
<rect x="667" y="463.0" width="5" height="5.8" fill="#b22833"/>
<rect x="668" y="464.0" width="3" height="3.8" fill="#b22833"/>
<rect x="676" y="454.3" width="1" height="36.6" fill="#1b5e20"/>
<rect x="674" y="465.5" width="5" height="4.2" fill="#1b5e20"/>
<rect x="675" y="466.5" width="3" height="2.2" fill="#388e3c"/>
<rect x="683" y="446.8" width="1" height="28.0" fill="#b22833"/>
<rect x="681" y="466.5" width="5" height="8.1" fill="#b22833"/>
<rect x="682" y="467.5" width="3" height="6.1" fill="#b22833"/>
<rect x="690" y="426.6" width="1" height="51.4" fill="#1b5e20"/>
<rect x="688" y="441.0" width="5" height="27.4" fill="#1b5e20"/>
<rect x="689" y="442.0" width="3" height="25.4" fill="#388e3c"/>
<rect x="697" y="435.1" width="1" height="33.7" fill="#b22833"/>
<rect x="695" y="440.1" width="5" height="28.3" fill="#b22833"/>
<rect x="696" y="441.1" width="3" height="26.3" fill="#b22833"/>
<rect x="705" y="456.8" width="1" height="47.2" fill="#b22833"/>
<rect x="703" y="468.0" width="5" height="31.8" fill="#b22833"/>
<rect x="704" y="469.0" width="3" height="29.8" fill="#b22833"/>
<rect x="712" y="490.6" width="1" height="22.1" fill="#b22833"/>
<rect x="710" y="498.3" width="5" height="14.0" fill="#b22833"/>
<rect x="711" y="499.3" width="3" height="12.0" fill="#b22833"/>
<rect x="719" y="470.9" width="1" height="62.1" fill="#b22833"/>
<rect x="717" y="496.9" width="5" height="30.8" fill="#b22833"/>
<rect x="718" y="497.9" width="3" height="28.8" fill="#b22833"/>
<rect x="726" y="478.0" width="1" height="68.8" fill="#1b5e20"/>
<rect x="724" y="483.4" width="5" height="42.2" fill="#1b5e20"/>
<rect x="725" y="484.4" width="3" height="40.2" fill="#388e3c"/>
<rect x="733" y="464.2" width="1" height="50.8" fill="#b22833"/>
<rect x="731" y="481.3" width="5" height="12.5" fill="#b22833"/>
<rect x="732" y="482.3" width="3" height="10.5" fill="#b22833"/>
<rect x="740" y="460.1" width="1" height="35.3" fill="#1b5e20"/>
<rect x="738" y="465.5" width="5" height="28.9" fill="#1b5e20"/>
<rect x="739" y="466.5" width="3" height="26.9" fill="#388e3c"/>
<rect x="747" y="465.5" width="1" height="66.5" fill="#b22833"/>
<rect x="745" y="466.9" width="5" height="53.9" fill="#b22833"/>
<rect x="746" y="467.9" width="3" height="51.9" fill="#b22833"/>
<rect x="755" y="483.2" width="1" height="43.0" fill="#1b5e20"/>
<rect x="753" y="496.3" width="5" height="21.8" fill="#1b5e20"/>
<rect x="754" y="497.3" width="3" height="19.8" fill="#388e3c"/>
<rect x="762" y="471.8" width="1" height="44.2" fill="#b22833"/>
<rect x="760" y="494.6" width="5" height="17.6" fill="#b22833"/>
<rect x="761" y="495.6" width="3" height="15.6" fill="#b22833"/>
<rect x="769" y="468.1" width="1" height="44.1" fill="#1b5e20"/>
<rect x="767" y="485.3" width="5" height="26.9" fill="#1b5e20"/>
<rect x="768" y="486.3" width="3" height="24.9" fill="#388e3c"/>
<rect x="776" y="441.8" width="1" height="50.7" fill="#b22833"/>
<rect x="774" y="481.3" width="5" height="5.3" fill="#b22833"/>
<rect x="775" y="482.3" width="3" height="3.3" fill="#b22833"/>
<rect x="783" y="483.1" width="1" height="29.1" fill="#b22833"/>
<rect x="781" y="490.3" width="5" height="1.2" fill="#b22833"/>
<rect x="790" y="471.8" width="1" height="32.3" fill="#b22833"/>
<rect x="788" y="486.2" width="5" height="16.4" fill="#b22833"/>
<rect x="789" y="487.2" width="3" height="14.4" fill="#b22833"/>
<rect x="798" y="485.2" width="1" height="37.6" fill="#1b5e20"/>
<rect x="796" y="487.7" width="5" height="10.6" fill="#1b5e20"/>
<rect x="797" y="488.7" width="3" height="8.6" fill="#388e3c"/>
<rect x="805" y="461.2" width="1" height="35.6" fill="#1b5e20"/>
<rect x="803" y="466.9" width="5" height="20.3" fill="#1b5e20"/>
<rect x="804" y="467.9" width="3" height="18.3" fill="#388e3c"/>
<rect x="812" y="453.1" width="1" height="27.7" fill="#b22833"/>
<rect x="810" y="466.9" width="5" height="7.7" fill="#b22833"/>
<rect x="811" y="467.9" width="3" height="5.7" fill="#b22833"/>
<rect x="819" y="438.0" width="1" height="50.7" fill="#1b5e20"/>
<rect x="817" y="453.4" width="5" height="22.8" fill="#1b5e20"/>
<rect x="818" y="454.4" width="3" height="20.8" fill="#388e3c"/>
<rect x="826" y="441.9" width="1" height="30.4" fill="#b22833"/>
<rect x="824" y="452.1" width="5" height="4.8" fill="#b22833"/>
<rect x="825" y="453.1" width="3" height="2.8" fill="#b22833"/>
<rect x="833" y="432.3" width="1" height="31.7" fill="#1b5e20"/>
<rect x="831" y="440.5" width="5" height="14.9" fill="#1b5e20"/>
<rect x="832" y="441.5" width="3" height="12.9" fill="#388e3c"/>
<rect x="840" y="402.8" width="1" height="39.1" fill="#1b5e20"/>
<rect x="838" y="409.7" width="5" height="31.6" fill="#1b5e20"/>
<rect x="839" y="410.7" width="3" height="29.6" fill="#388e3c"/>
<rect x="848" y="388.9" width="1" height="37.6" fill="#1b5e20"/>
<rect x="846" y="391.2" width="5" height="19.3" fill="#1b5e20"/>
<rect x="847" y="392.2" width="3" height="17.3" fill="#388e3c"/>
<rect x="855" y="371.2" width="1" height="48.9" fill="#b22833"/>
<rect x="853" y="377.0" width="5" height="35.4" fill="#b22833"/>
<rect x="854" y="378.0" width="3" height="33.4" fill="#b22833"/>
<rect x="862" y="390.8" width="1" height="38.9" fill="#1b5e20"/>
<rect x="860" y="398.2" width="5" height="13.4" fill="#1b5e20"/>
<rect x="861" y="399.2" width="3" height="11.4" fill="#388e3c"/>
<rect x="869" y="392.2" width="1" height="43.5" fill="#b22833"/>
<rect x="867" y="396.0" width="5" height="36.8" fill="#b22833"/>
<rect x="868" y="397.0" width="3" height="34.8" fill="#b22833"/>
<rect x="876" y="412.0" width="1" height="55.9" fill="#b22833"/>
<rect x="874" y="429.9" width="5" height="36.5" fill="#b22833"/>
<rect x="875" y="430.9" width="3" height="34.5" fill="#b22833"/>
<rect x="883" y="454.8" width="1" height="47.2" fill="#b22833"/>
<rect x="881" y="464.6" width="5" height="29.9" fill="#b22833"/>
<rect x="882" y="465.6" width="3" height="27.9" fill="#b22833"/>
<rect x="891" y="476.6" width="1" height="32.3" fill="#b22833"/>
<rect x="889" y="484.3" width="5" height="2.3" fill="#b22833"/>
<rect x="890" y="485.3" width="3" height="0.3" fill="#b22833"/>
<rect x="898" y="467.3" width="1" height="24.7" fill="#1b5e20"/>
<rect x="896" y="474.3" width="5" height="13.3" fill="#1b5e20"/>
<rect x="897" y="475.3" width="3" height="11.3" fill="#388e3c"/>
<rect x="905" y="460.8" width="1" height="16.3" fill="#1b5e20"/>
<rect x="903" y="463.1" width="5" height="11.5" fill="#1b5e20"/>
<rect x="904" y="464.1" width="3" height="9.5" fill="#388e3c"/>
<rect x="912" y="419.2" width="1" height="51.6" fill="#1b5e20"/>
<rect x="910" y="421.3" width="5" height="42.4" fill="#1b5e20"/>
<rect x="911" y="422.3" width="3" height="40.4" fill="#388e3c"/>
<rect x="919" y="405.9" width="1" height="23.1" fill="#1b5e20"/>
<rect x="917" y="419.3" width="5" height="2.4" fill="#1b5e20"/>
<rect x="918" y="420.3" width="3" height="0.4" fill="#388e3c"/>
<rect x="926" y="409.1" width="1" height="26.6" fill="#1b5e20"/>
<rect x="924" y="413.4" width="5" height="10.2" fill="#1b5e20"/>
<rect x="925" y="414.4" width="3" height="8.2" fill="#388e3c"/>
<rect x="933" y="405.0" width="1" height="7.0" fill="#1b5e20"/>
<rect x="931" y="409.0" width="5" height="3.0" fill="#1b5e20"/>
<rect x="932" y="410.0" width="3" height="1.0" fill="#388e3c"/>
</g>
<line x1="-1" y1="409.5" x2="964" y2="409.5" stroke="#388e3c" stroke-width="1" stroke-dasharray="1 2"/>
<polyline points="-0.5,762.0 15.5,761.4 31.3,764.5 53.5,769.9 72.5,776.3 91.5,781.1 96.0,781.8 104.0,782.3 111.0,781.3 118.0,779.7 125.0,776.8 132.0,774.0 139.0,772.2 147.0,769.7 154.0,766.8 161.0,762.9 168.0,759.0 175.0,755.0 182.0,750.8 189.0,746.9 197.0,744.1 204.0,743.1 211.0,742.9 218.0,742.4 225.0,742.5 232.0,742.6 240.0,741.1 247.0,741.0 254.0,741.5 261.0,743.8 268.0,745.8 275.0,750.9 282.0,757.0 290.0,763.3 297.0,767.1 304.0,770.2 311.0,774.4 318.0,778.9 325.0,781.4 333.0,784.6 340.0,788.6 347.0,791.2 354.0,792.8 361.0,793.6 368.0,795.7 375.0,796.3 383.0,795.5 390.0,795.5 397.0,796.3 404.0,797.9 411.0,798.9 418.0,800.0 426.0,802.2 433.0,804.6 440.0,807.2 447.0,811.2 454.0,816.2 461.0,820.6 468.0,823.4 476.0,824.8 483.0,826.9 490.0,828.8 497.0,832.5 504.0,833.9 511.0,834.3 519.0,834.4 526.0,835.5 533.0,836.3 540.0,837.3 547.0,837.2 554.0,836.0 561.0,834.3 569.0,834.0 576.0,834.7 583.0,835.6 590.0,836.3 597.0,836.8 604.0,838.4 612.0,839.9 619.0,841.4 626.0,843.3 633.0,844.5 640.0,844.6 647.0,844.6 654.0,844.7 662.0,844.8 669.0,844.4 676.0,843.4 683.0,842.3 690.0,839.9 697.0,837.3 705.0,835.5 712.0,834.8 719.0,834.3 726.0,832.0 733.0,830.4 740.0,828.9 747.0,828.6 755.0,828.2 762.0,828.6 769.0,828.2 776.0,828.0 783.0,827.6 790.0,828.3 798.0,828.1 805.0,826.7 812.0,825.3 819.0,823.0 826.0,821.9 833.0,820.2 840.0,818.4 848.0,815.1 855.0,812.9 862.0,810.1 869.0,808.8 876.0,808.2 883.0,808.3 891.0,807.8 898.0,807.5 905.0,807.3 912.0,806.0 919.0,805.1 926.0,804.0 933.0,803.2" fill="none" stroke="#9598a1" stroke-width="1.1" stroke-linejoin="round" stroke-linecap="round"/>
<polyline points="-0.5,761.0 3.0,760.4 11.0,765.2 18.0,776.3 25.0,789.0 32.0,784.2 39.0,776.3 46.0,784.9 54.0,789.0 61.0,796.3 68.0,794.4 75.0,787.4 82.0,787.4 89.0,778.8 96.0,776.3 104.0,766.1 111.0,752.5 118.0,753.1 125.0,748.6 132.0,744.5 139.0,751.5 147.0,749.3 154.0,749.3 161.0,740.7 168.0,740.4 175.0,731.2 182.0,728.6 189.0,723.8 197.0,738.1 204.0,751.8 211.0,749.9 218.0,746.1 225.0,750.2 232.0,746.1 240.0,730.2 247.0,747.1 254.0,756.6 261.0,773.1 268.0,768.4 275.0,802.7 282.0,813.8 290.0,812.2 297.0,791.6 304.0,794.4 311.0,809.7 318.0,808.1 325.0,785.8 333.0,790.0 340.0,786.5 347.0,783.9 354.0,778.8 361.0,784.9 368.0,797.9 375.0,811.3 383.0,802.4 390.0,811.9 397.0,803.3 404.0,816.7 411.0,822.4 418.0,824.6 426.0,815.7 433.0,823.4 440.0,823.4 447.0,840.8 454.0,847.5 461.0,847.5 468.0,837.3 476.0,830.0 483.0,831.6 490.0,839.2 497.0,854.8 504.0,836.1 511.0,827.8 519.0,826.5 526.0,831.3 533.0,833.8 540.0,838.6 547.0,839.2 554.0,830.3 561.0,823.4 569.0,833.5 576.0,839.2 583.0,844.3 590.0,849.7 597.0,861.2 604.0,859.0 612.0,848.1 619.0,847.5 626.0,858.3 633.0,851.0 640.0,840.0 647.0,839.2 654.0,831.9 662.0,824.9 669.0,826.8 676.0,825.9 683.0,828.4 690.0,817.0 697.0,824.9 705.0,833.5 712.0,837.3 719.0,841.5 726.0,825.6 733.0,828.4 740.0,819.2 747.0,834.5 755.0,826.5 762.0,831.0 769.0,821.8 776.0,821.8 783.0,823.4 790.0,827.2 798.0,821.8 805.0,814.4 812.0,816.7 819.0,809.4 826.0,810.6 833.0,804.9 840.0,794.1 848.0,788.1 855.0,795.7 862.0,791.2 869.0,803.3 876.0,814.4 883.0,824.0 891.0,821.1 898.0,816.7 905.0,812.5 912.0,798.2 919.0,797.3 926.0,795.1 933.0,793.8" fill="none" stroke="#1e3ea8" stroke-width="1.15" stroke-linejoin="round" stroke-linecap="round"/>
<g shape-rendering="crispEdges">
<rect x="0" y="706" width="1028" height="1" fill="#e0e3eb"/>
<rect x="0" y="26" width="1029" height="2" fill="#eff1f6"/>
<rect x="0" y="903" width="1029" height="2" fill="#eff1f6"/>
<rect x="1027" y="26" width="2" height="879" fill="#eff1f6"/>
</g>
</svg>
<div class="t" style="top:66px">96.00</div>
<div class="t" style="top:102px">94.00</div>
<div class="t" style="top:137.5px">92.00</div>
<div class="t" style="top:173px">90.00</div>
<div class="t" style="top:209px">88.00</div>
<div class="t" style="top:244px">86.00</div>
<div class="t" style="top:279px">84.00</div>
<div class="t" style="top:598px">66.00</div>
<div class="t" style="top:633px">64.00</div>
<div class="t" style="top:669px">62.00</div>
<div class="t" style="top:707px">70.00</div>
<div class="t" style="top:753px">60.00</div>
<div class="t" style="top:770px">53.85</div>
<div class="t" style="top:822px">46.03</div>
<div class="t" style="top:844px">40.00</div>
<div style="position:absolute;left:967px;top:30px;width:57.5px;height:28px;box-sizing:border-box;border:1.5px solid #e1e4eb;border-radius:5px;line-height:25px;padding-left:8.5px"><span style="display:inline-block;transform:scaleX(0.86);transform-origin:0 50%;position:relative;top:1.5px">USD</span></div>
<div class="b " style="top:84px;background:#e3effd;border-radius:0 2px 2px 0;"><span>94.99</span></div>
<div class="b " style="top:640px;background:#e3effd;border-radius:0 2px 2px 0;"><span>63.61</span></div>
<div class="b" style="left:917px;width:46px;top:84px;background:#e3effd;padding-left:4.5px;letter-spacing:-0.55px;border-radius:2px 0 0 2px"><span>Yüksek</span></div>
<div class="b" style="left:922px;width:42px;top:640px;background:#e3effd;border-right:1px solid #fff;padding-left:4.5px;letter-spacing:-0.6px;border-radius:2px 0 0 2px"><span>Düşük</span></div>
<div class="b w" style="top:316px;background:#000;"><span>80.34</span></div>
<div class="b w" style="top:333px;background:#000;"><span>79.70</span></div>
<div class="b w" style="top:350px;background:#000;"><span>78.75</span></div>
<div class="b " style="top:367px;background:#9598a1;"><span>77.79</span></div>
<div class="b w" style="top:384px;background:#000;"><span>77.48</span></div>
<div class="b w" style="top:401px;width:60px;height:31px;background:#388e3c;border-radius:0 2px 2px 0;line-height:14px;padding-top:1.5px"><span>77.10<br><span style="top:0;color:rgba(255,255,255,.8);letter-spacing:-0.3px">14:00:12</span></span></div>
<div class="b w" style="top:432px;background:#4caf50;"><span>76.19</span></div>
<div class="b w" style="top:449px;background:#000;"><span>76.13</span></div>
<div class="b w" style="top:466px;background:#000;"><span>75.00</span></div>
<div class="b w" style="top:483px;background:#b22833;"><span>74.88</span></div>
<div class="b w" style="top:500px;background:#000;"><span>73.85</span></div>
<div class="b " style="top:517px;background:#ff9800;"><span>73.30</span></div>
<div class="b w" style="top:534px;background:#000;"><span>72.26</span></div>
<div class="b w" style="top:551px;background:#000;"><span>71.28</span></div>
<div class="b w" style="top:568px;background:#000;"><span>69.58</span></div>
<div class="b w" style="top:585px;background:#000;"><span>68.60</span></div>
<div class="b w" style="top:786px;background:#12309c;border-radius:2px 2px 0 0;"><span>52.57</span></div>
<div class="b " style="top:803px;background:#9598a1;border-radius:0 0 2px 2px;"><span>50.50</span></div>
<div class="tm" style="left:111px;">Eyl</div>
<div class="tm" style="left:261.2px;">Eki</div>
<div class="tm" style="left:418.5px;">Kas</div>
<div class="tm" style="left:575.5px;">Ara</div>
<div class="tm" style="left:719.1px;font-weight:bold;letter-spacing:0">2024</div>
<div class="tm" style="left:876.2px;">Şub</div>
</div></body></html>
